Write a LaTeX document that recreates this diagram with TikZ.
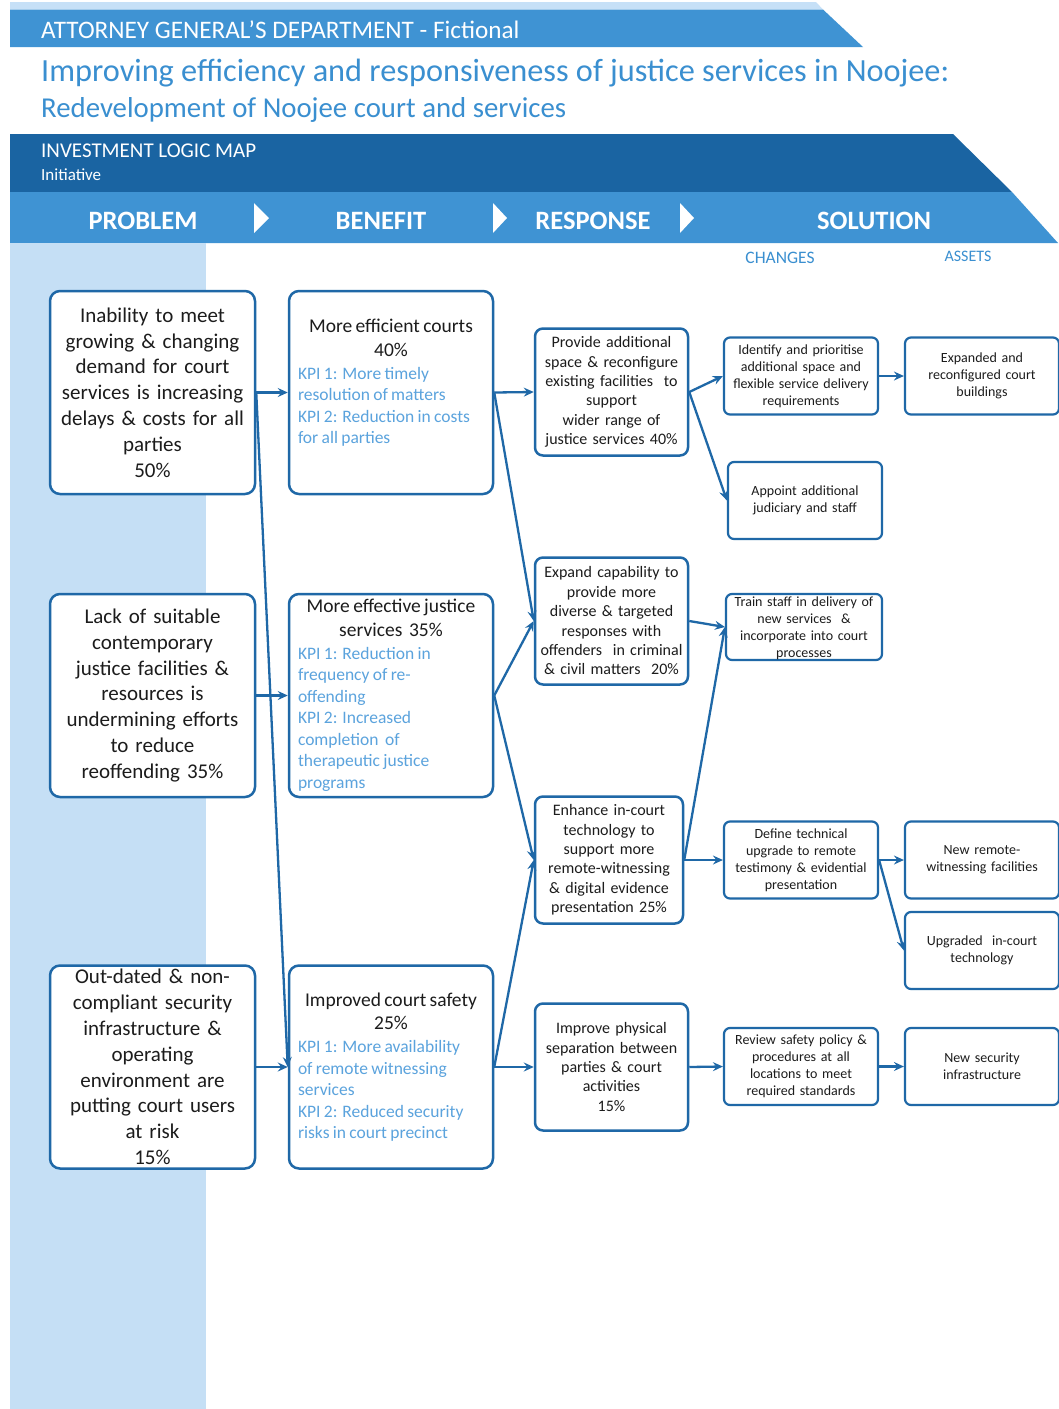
\documentclass[tikz,border=0pt]{standalone}
\usepackage{fontspec}
\setmainfont{Carlito}
\usetikzlibrary{arrows.meta}
\definecolor{bandmid}{HTML}{3F93D3}
\definecolor{banddark}{HTML}{1A64A2}
\definecolor{bandlight}{HTML}{C6E0F7}
\definecolor{colbg}{HTML}{C5DFF5}
\definecolor{titleblue}{HTML}{3A8FD0}
\definecolor{kpiblue}{HTML}{5BA3DD}
\definecolor{boxline}{HTML}{1F68A7}
\definecolor{txt}{HTML}{1C1C1C}
\tikzset{
  box/.style={draw=boxline, line width=2.5pt, rounded corners=10pt, fill=white, inner sep=0pt, text=txt, align=center},
  pbox/.style={box, minimum width=205pt, minimum height=203pt, text width=198pt, font=\fontsize{21}{25.8}\selectfont},
  bbox/.style={box, minimum width=204pt, minimum height=203pt, text width=186pt, align=left},
  rbox/.style={box, rounded corners=8pt, minimum width=153pt, minimum height=127pt, text width=150pt, font=\fontsize{16}{19.4}\selectfont},
  cbox/.style={box, rounded corners=6pt, line width=2.2pt, minimum width=154pt, minimum height=77pt, text width=152pt, font=\fontsize{14}{17}\selectfont},
  ctext/.style={inner sep=0pt, text=txt, align=center, text width=156pt, font=\fontsize{14}{17}\selectfont},
  link/.style={draw=boxline, line width=2.3pt, -{Stealth[length=10pt,width=9pt,inset=3.5pt]}},
  hdr/.style={text=white, inner sep=0pt, font=\bfseries\fontsize{26.5}{30}\selectfont, anchor=base},
  chev/.style={fill=white, draw=none},
}
\newcommand{\btitle}[1]{{\centering\fontsize{19.5}{23.5}\selectfont #1\par}\vspace{1.5pt}}
\newcommand{\bkpi}[1]{{\color{kpiblue}\fontsize{17.5}{21.5}\selectfont #1\par}}
\begin{document}
\begin{tikzpicture}[x=1pt,y=-1pt]
\useasboundingbox (0,0) rectangle (1059,1409);
\fill[white] (0,0) rectangle (1059,1409);
% header bands
\fill[bandlight] (10,2) -- (816,2) -- (823,9.5) -- (10,9.5) -- cycle;
\fill[bandmid] (10,9.5) -- (823,9.5) -- (863,47) -- (10,47) -- cycle;
\node[anchor=base west, inner sep=0pt, text=white, font=\fontsize{25.2}{28}\selectfont] (dept) at (41,38) {ATTORNEY GENERAL’S DEPARTMENT - Fictional};
\node[anchor=base west, inner sep=0pt, text=titleblue, font=\fontsize{32.3}{35}\selectfont] (title1) at (41,81) {Improving efficiency and responsiveness of justice services in Noojee:};
\node[anchor=base west, inner sep=0pt, text=titleblue, font=\fontsize{28.8}{32}\selectfont] (title2) at (41,117) {Redevelopment of Noojee court and services};
\fill[banddark] (10,134) -- (953,134) -- (1012,192) -- (10,192) -- cycle;
\fill[bandmid] (10,192) -- (1012,192) -- (1058,243) -- (10,243) -- cycle;
\node[anchor=base west, inner sep=0pt, text=white, font=\fontsize{21}{24}\selectfont] (ilm) at (41,157) {INVESTMENT LOGIC MAP};
\node[anchor=base west, inner sep=0pt, text=white, font=\fontsize{17}{20}\selectfont] (init) at (41,180) {Initiative};
\node[hdr] (hprob) at (143,229) {PROBLEM};
\node[hdr] (hben) at (381,229) {BENEFIT};
\node[hdr] (hresp) at (593,229) {RESPONSE};
\node[hdr] (hsol) at (874,229) {SOLUTION};
\fill[chev] (254,203) -- (269,218) -- (254,233) -- cycle;
\fill[chev] (493,203) -- (507,218) -- (493,233) -- cycle;
\fill[chev] (680,203) -- (694,218) -- (680,233) -- cycle;
% left column
\fill[colbg] (10,243) rectangle (206,1409);
\node[anchor=base, inner sep=0pt, text=titleblue, font=\fontsize{17.5}{20}\selectfont] (hchg) at (780,263) {CHANGES};
\node[anchor=base, inner sep=0pt, text=titleblue, font=\fontsize{16}{19}\selectfont] (hass) at (968,261) {ASSETS};
% problem boxes
\node[pbox] (p1) at (152.5,392.5) {Inability to meet\\growing \& changing\\demand for court\\services is increasing\\delays \& costs for all\\parties\\50\%};
\node[pbox] (p2) at (152.5,695.5) {Lack of suitable\\contemporary\\justice facilities \&\\resources is\\undermining efforts\\to reduce\\reoffending 35\%};
\node[pbox] (p3) at (152.5,1067) {Out-dated \& non-\\compliant security\\infrastructure \&\\operating\\environment are\\putting court users\\at risk\\15\%};
% benefit boxes
\node[bbox] (b1) at (391,392.5) {\btitle{More efficient courts\\40\%}\bkpi{KPI 1: More timely\\resolution of matters\\KPI 2: Reduction in costs\\for all parties\\\mbox{}}};
\node[bbox] (b2) at (391,695.5) {\btitle{More effective justice\\services~ 35\%}\bkpi{KPI 1: Reduction in\\frequency of re-\\offending\\KPI 2: Increased\\completion~ of\\therapeutic justice\\programs}};
\node[bbox] (b3) at (391,1067) {\btitle{Improved court safety\\25\%}\bkpi{KPI 1: More availability\\of remote witnessing\\services\\KPI 2: Reduced security\\risks in court precinct}};
% response boxes
\node[rbox] (r1) at (611.5,392) {Provide additional\\space \& reconfigure\\existing facilities~ to\\support\\wider range of\\justice services 40\%};
\node[rbox] (r2) at (611.5,621) {Expand capability to\\provide more\\diverse \& targeted\\responses with\\offenders~ in criminal\\\& civil matters~ 20\%};
\node[rbox, minimum width=148pt, text width=146pt] (r3) at (609,860) {Enhance in-court\\technology to\\support more\\remote-witnessing\\\& digital evidence\\presentation 25\%};
\node[rbox] (r4) at (611.5,1067) {Improve physical\\separation between\\parties \& court\\activities\\15\%};
% change boxes
\node[cbox] (c1) at (801,376) {Identify and prioritise\\additional space and\\flexible service delivery\\requirements};
\node[cbox] (c2) at (805,500.5) {Appoint additional\\judiciary and staff};
\node[cbox, minimum width=156pt, minimum height=66pt] (c3) at (804,627) {};
\node[ctext] (c3t) at (804,628) {Train staff in delivery of\\new services~ \&\\incorporate into court\\processes};
\node[cbox] (c4) at (801,860) {Define technical\\upgrade to remote\\testimony \& evidential\\presentation};
\node[cbox] (c5) at (801,1066.5) {Review safety policy \&\\procedures at all\\locations to meet\\required standards};
% asset boxes
\node[cbox] (a1) at (982,376) {Expanded and\\reconfigured court\\buildings};
\node[cbox] (a2) at (982,860) {New remote-\\witnessing facilities};
\node[cbox] (a3) at (982,950.5) {Upgraded~ in-court\\technology};
\node[cbox] (a4) at (982,1066.5) {New security\\infrastructure};
% connectors
\draw[link] (p1.east) -- (b1.west);
\draw[link] (p1.east) -- (b3.west);
\draw[link] (p2.east) -- (b2.west);
\draw[link] (p3.east) -- (b3.west);
\draw[link] (b1.east) -- (r1.west);
\draw[link] (b1.east) -- (r2.west);
\draw[link] (b2.east) -- (r2.west);
\draw[link] (b2.east) -- (r3.west);
\draw[link] (b3.east) -- (r3.west);
\draw[link] (b3.east) -- (r4.west);
\draw[link] (r1.east) -- (c1.west);
\draw[link] (r1.east) -- (c2.west);
\draw[link] (r2.east) -- (c3.west);
\draw[link] (r3.east) -- (c3.west);
\draw[link] (r3.east) -- (c4.west);
\draw[link] (r4.east) -- (c5.west);
\draw[link] (c1.east) -- (a1.west);
\draw[link] (c4.east) -- (a2.west);
\draw[link] (c4.east) -- (a3.west);
\draw[link] (c5.east) -- (a4.west);
\end{tikzpicture}
\end{document}
